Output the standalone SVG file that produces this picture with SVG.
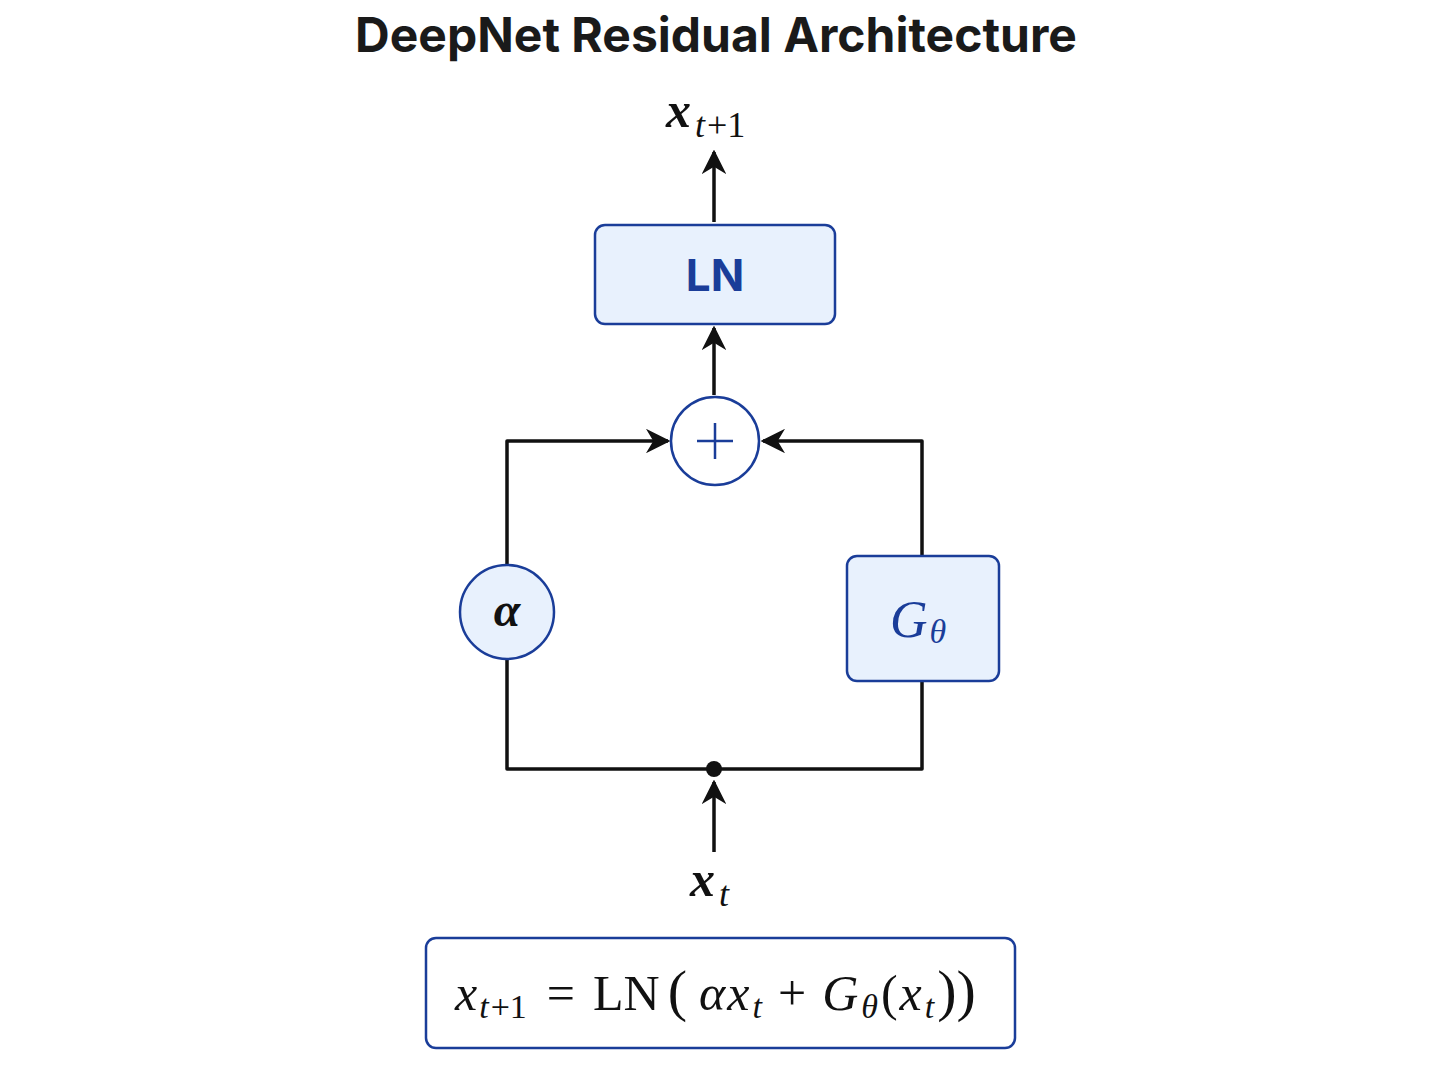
<svg xmlns="http://www.w3.org/2000/svg" width="1448" height="1086" viewBox="0 0 1448 1086">
<style>
.box{fill:#e8f1fd;stroke:#1a3d99;stroke-width:2.5}
.ln{fill:none;stroke:#111;stroke-width:3.5;stroke-linejoin:round}
.math{font-family:"Liberation Serif",serif;font-style:italic;fill:#111}
.rm{font-family:"Liberation Serif",serif;fill:#111}
</style>
<defs>
<marker id="ah" viewBox="0 0 10 10" refX="9" refY="5" markerWidth="7" markerHeight="7" orient="auto"><path d="M0,0 L10,5 L0,10 L3,5 z" fill="#111"/></marker>
</defs>
<rect width="1448" height="1086" fill="#fff"/>
<text x="716" y="52" text-anchor="middle" font-family="Inter,'Liberation Sans',sans-serif" font-weight="700" font-size="48" fill="#1a1a1a">DeepNet Residual Architecture</text>
<g id="connectors">
<path class="ln" d="M714,222 V152" marker-end="url(#ah)"/>
<path class="ln" d="M714,395 V328" marker-end="url(#ah)"/>
<path class="ln" d="M507,566 V441 H668" marker-end="url(#ah)"/>
<path class="ln" d="M922,556 V441 H763" marker-end="url(#ah)"/>
<path class="ln" d="M507,658 V769 H922 V681"/>
<path class="ln" d="M714,852 V782" marker-end="url(#ah)"/>
<circle cx="714" cy="769" r="8" fill="#111"/>
</g>
<g id="out"><text x="666" y="127" class="math" font-size="50" font-weight="700">x<tspan font-size="36" dy="10" dx="4" font-weight="400">t</tspan><tspan class="rm" font-style="normal" font-size="36" font-weight="400" dx="2">+1</tspan></text></g>
<g id="ln"><rect class="box" x="595" y="225" width="240" height="99" rx="10"/><text x="715" y="291" text-anchor="middle" font-family="Inter,'Liberation Sans',sans-serif" font-weight="700" font-size="44" fill="#1a3d99">LN</text></g>
<g id="plus"><circle cx="715" cy="441" r="44" fill="#fff" stroke="#1a3d99" stroke-width="2.5"/><path d="M697,441 H733 M715,423 V459" stroke="#1a3d99" stroke-width="2.5"/></g>
<g id="alpha"><circle cx="507" cy="612" r="47" class="box"/><text x="507" y="626" text-anchor="middle" class="math" font-size="48" font-weight="700">α</text></g>
<g id="g"><rect class="box" x="847" y="556" width="152" height="125" rx="10"/><text x="890" y="637" class="math" font-size="52" style="fill:#1a3d99">G<tspan font-size="34" dy="6" dx="2">θ</tspan></text></g>
<g id="in"><text x="690" y="896" class="math" font-size="50" font-weight="700">x<tspan font-size="36" dy="10" dx="4" font-weight="400">t</tspan></text></g>
<g id="eq"><rect x="426" y="938" width="589" height="110" rx="10" fill="#fff" stroke="#1a3d99" stroke-width="2.5"/>
<text x="455" y="1010" class="math" font-size="50">x<tspan font-size="34" dy="8" dx="2">t</tspan><tspan font-style="normal" font-size="34" dx="2">+1</tspan><tspan dy="-8" font-style="normal" dx="20">=</tspan><tspan font-style="normal" dx="18">LN</tspan><tspan font-style="normal" font-size="58" dx="8">(</tspan><tspan dx="12">α</tspan><tspan dx="2">x</tspan><tspan font-size="34" dy="8" dx="3">t</tspan><tspan dy="-8" font-style="normal" dx="16">+</tspan><tspan dx="16">G</tspan><tspan font-size="34" dy="8" dx="3">θ</tspan><tspan dy="-8" font-style="normal" dx="3">(</tspan><tspan dx="2">x</tspan><tspan font-size="34" dy="8" dx="3">t</tspan><tspan dy="-8" font-style="normal" font-size="58" dx="3">))</tspan></text></g>
</svg>
